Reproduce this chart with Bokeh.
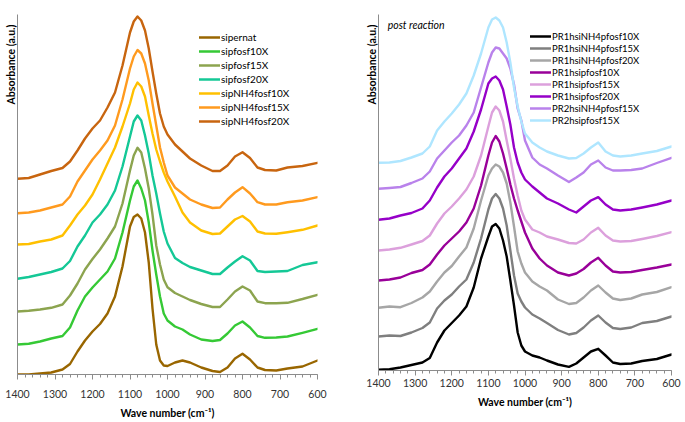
from bokeh.plotting import figure
from bokeh.layouts import row
from bokeh.models import Range1d, Legend, LegendItem, Title, Label, FixedTicker
from bokeh.embed import file_html
from bokeh.resources import INLINE

# ---------------- data (stacked absorbance in a.u.) ----------------
wavenumber = [1400, 1370, 1340, 1310, 1280, 1260, 1240, 1220, 1200, 1180,
              1160, 1140, 1120, 1100, 1090, 1080, 1070, 1060, 1050, 1040,
              1030, 1020, 1010, 1000, 980, 960, 940, 910, 880, 860,
              840, 820, 800, 780, 760, 740, 710, 680, 640, 600]

# left panel
sipernat = [0.00, 0.00, 0.01, 0.02, 0.05, 0.105, 0.23, 0.34, 0.43, 0.505,
            0.61, 0.78, 1.08, 1.48, 1.575, 1.60, 1.56, 1.42, 1.12, 0.66,
            0.30, 0.14, 0.09, 0.085, 0.12, 0.14, 0.12, 0.07, 0.035, 0.025,
            0.07, 0.16, 0.207, 0.15, 0.07, 0.045, 0.04, 0.06, 0.08, 0.14]
sipfosf10X = [0.30, 0.307, 0.33, 0.36, 0.385, 0.47, 0.64, 0.78, 0.87, 0.95,
              1.03, 1.16, 1.42, 1.74, 1.88, 1.94, 1.86, 1.74, 1.52, 1.24,
              1.00, 0.78, 0.61, 0.54, 0.48, 0.45, 0.40, 0.35, 0.335, 0.345,
              0.41, 0.49, 0.53, 0.47, 0.385, 0.367, 0.37, 0.38, 0.417, 0.457]
sipfosf15X = [0.63, 0.637, 0.65, 0.667, 0.70, 0.79, 0.91, 1.05, 1.155, 1.25,
              1.36, 1.48, 1.71, 2.04, 2.19, 2.267, 2.22, 2.06, 1.86, 1.60,
              1.29, 1.10, 0.95, 0.873, 0.815, 0.78, 0.745, 0.705, 0.675, 0.675,
              0.75, 0.83, 0.88, 0.84, 0.73, 0.713, 0.713, 0.717, 0.755, 0.797]
sipfosf20X = [0.957, 0.975, 1.00, 1.025, 1.06, 1.135, 1.28, 1.39, 1.52, 1.60,
              1.70, 1.84, 2.08, 2.38, 2.53, 2.59, 2.54, 2.39, 2.21, 1.99,
              1.81, 1.61, 1.43, 1.31, 1.165, 1.115, 1.075, 1.04, 1.005, 1.005,
              1.07, 1.13, 1.183, 1.14, 1.035, 1.025, 1.03, 1.035, 1.095, 1.123]
sipNH4fosf10X = [1.30, 1.305, 1.33, 1.35, 1.39, 1.49, 1.60, 1.69, 1.80, 1.95,
                 2.11, 2.27, 2.48, 2.71, 2.85, 2.92, 2.88, 2.78, 2.59, 2.41,
                 2.25, 2.13, 2.02, 1.93, 1.78, 1.62, 1.52, 1.44, 1.405, 1.41,
                 1.48, 1.55, 1.585, 1.53, 1.43, 1.41, 1.407, 1.423, 1.447, 1.49]
sipNH4fosf15X = [1.613, 1.62, 1.64, 1.67, 1.70, 1.78, 1.93, 2.04, 2.15, 2.24,
                 2.34, 2.49, 2.75, 3.06, 3.18, 3.245, 3.21, 3.11, 2.94, 2.71,
                 2.49, 2.27, 2.12, 1.99, 1.87, 1.81, 1.75, 1.70, 1.665, 1.67,
                 1.75, 1.82, 1.873, 1.81, 1.723, 1.70, 1.70, 1.723, 1.74, 1.773]
sipNH4fosf20X = [1.957, 1.965, 2.00, 2.035, 2.065, 2.13, 2.24, 2.36, 2.46, 2.54,
                 2.67, 2.82, 3.09, 3.42, 3.53, 3.58, 3.54, 3.44, 3.26, 3.03,
                 2.81, 2.61, 2.48, 2.40, 2.30, 2.23, 2.16, 2.09, 2.035, 2.035,
                 2.09, 2.18, 2.223, 2.165, 2.07, 2.045, 2.04, 2.07, 2.085, 2.117]

left_names = ["sipernat", "sipfosf10X", "sipfosf15X", "sipfosf20X",
              "sipNH4fosf10X", "sipNH4fosf15X", "sipNH4fosf20X"]
left_series = [sipernat, sipfosf10X, sipfosf15X, sipfosf20X,
               sipNH4fosf10X, sipNH4fosf15X, sipNH4fosf20X]
left_colors = ["#996600", "#35C935", "#8CA44F", "#14C896",
               "#FFC000", "#FF9A1E", "#C8650F"]

# right panel (post reaction)
PR1hsiNH4pfosf10X = [0.007, 0.013, 0.03, 0.055, 0.08, 0.125, 0.28, 0.40, 0.475, 0.55,
                     0.64, 0.83, 1.12, 1.34, 1.44, 1.465, 1.42, 1.30, 1.14, 0.90,
                     0.65, 0.38, 0.25, 0.19, 0.15, 0.13, 0.10, 0.06, 0.037, 0.07,
                     0.13, 0.19, 0.217, 0.15, 0.08, 0.065, 0.07, 0.095, 0.115, 0.16]
PR1hsiNH4pfosf15X = [0.34, 0.35, 0.345, 0.38, 0.425, 0.48, 0.62, 0.70, 0.76, 0.84,
                     0.91, 1.08, 1.32, 1.61, 1.72, 1.765, 1.72, 1.62, 1.45, 1.20,
                     0.95, 0.77, 0.69, 0.63, 0.56, 0.52, 0.475, 0.405, 0.36, 0.375,
                     0.43, 0.50, 0.55, 0.48, 0.425, 0.415, 0.43, 0.475, 0.495, 0.54]
PR1hsiNH4pfosf20X = [0.627, 0.64, 0.633, 0.675, 0.73, 0.79, 0.89, 0.98, 1.045, 1.14,
                     1.23, 1.42, 1.70, 1.95, 2.02, 2.06, 2.04, 1.98, 1.87, 1.68,
                     1.44, 1.19, 1.07, 0.98, 0.89, 0.84, 0.80, 0.71, 0.665, 0.675,
                     0.73, 0.80, 0.85, 0.78, 0.72, 0.705, 0.72, 0.76, 0.785, 0.833]
PR1hsipfosf10X = [0.90, 0.91, 0.93, 0.975, 1.005, 1.06, 1.16, 1.25, 1.32, 1.39,
                  1.48, 1.62, 1.85, 2.15, 2.28, 2.345, 2.29, 2.17, 2.02, 1.86,
                  1.72, 1.60, 1.49, 1.38, 1.22, 1.12, 1.05, 0.98, 0.95, 0.97,
                  1.015, 1.08, 1.127, 1.05, 0.99, 0.98, 0.985, 1.005, 1.03, 1.06]
PR1hsipfosf15X = [1.20, 1.21, 1.227, 1.26, 1.295, 1.35, 1.47, 1.57, 1.64, 1.72,
                  1.81, 1.94, 2.15, 2.44, 2.58, 2.64, 2.60, 2.49, 2.30, 2.12,
                  1.92, 1.75, 1.60, 1.51, 1.41, 1.38, 1.34, 1.31, 1.275, 1.27,
                  1.31, 1.38, 1.427, 1.35, 1.30, 1.29, 1.295, 1.315, 1.345, 1.383]
PR1hsipfosf20X = [1.507, 1.52, 1.55, 1.575, 1.62, 1.70, 1.83, 1.94, 2.02, 2.12,
                  2.22, 2.39, 2.61, 2.87, 2.92, 2.94, 2.90, 2.81, 2.64, 2.46,
                  2.23, 2.08, 1.98, 1.91, 1.84, 1.78, 1.72, 1.67, 1.61, 1.58,
                  1.64, 1.70, 1.733, 1.66, 1.61, 1.60, 1.61, 1.63, 1.66, 1.70]
PR2hsiNH4pfosf15X = [1.817, 1.825, 1.835, 1.875, 1.92, 1.99, 2.12, 2.20, 2.28, 2.35,
                     2.45, 2.58, 2.83, 3.08, 3.18, 3.23, 3.22, 3.17, 3.12, 3.02,
                     2.86, 2.62, 2.50, 2.30, 2.13, 2.06, 2.02, 1.95, 1.885, 1.93,
                     1.98, 2.06, 2.10, 2.03, 2.00, 2.00, 2.005, 2.02, 2.075, 2.127]
PR2hsipfosf15X = [2.077, 2.08, 2.095, 2.13, 2.17, 2.24, 2.40, 2.49, 2.57, 2.66,
                  2.77, 2.95, 3.17, 3.43, 3.51, 3.53, 3.50, 3.43, 3.28, 3.08,
                  2.83, 2.64, 2.49, 2.37, 2.28, 2.23, 2.19, 2.15, 2.12, 2.125,
                  2.17, 2.23, 2.28, 2.19, 2.15, 2.14, 2.15, 2.17, 2.195, 2.24]

right_names = ["PR1hsiNH4pfosf10X", "PR1hsiNH4pfosf15X", "PR1hsiNH4pfosf20X",
               "PR1hsipfosf10X", "PR1hsipfosf15X", "PR1hsipfosf20X",
               "PR2hsiNH4pfosf15X", "PR2hsipfosf15X"]
right_series = [PR1hsiNH4pfosf10X, PR1hsiNH4pfosf15X, PR1hsiNH4pfosf20X,
                PR1hsipfosf10X, PR1hsipfosf15X, PR1hsipfosf20X,
                PR2hsiNH4pfosf15X, PR2hsipfosf15X]
right_colors = ["#000000", "#7F7F7F", "#A6A6A6", "#990099",
                "#DCA0DC", "#9600C8", "#B982EB", "#AFE6FF"]

major_ticks = [1400, 1300, 1200, 1100, 1000, 900, 800, 700, 600]
minor_ticks = list(range(600, 1401, 20))

FONT = "Lato"
AXIS_GRAY = "#8C8C8C"


def make_panel(frame_w, frame_h, y_max, border_left, border_right, border_bottom,
               label_standoff, axis_label_standoff):
    p = figure(frame_width=frame_w, frame_height=frame_h,
               x_range=Range1d(1400, 600), y_range=Range1d(0, y_max),
               output_backend="svg", toolbar_location=None,
               min_border_top=14, min_border_left=border_left,
               min_border_right=border_right, min_border_bottom=border_bottom)
    p.outline_line_color = None
    p.xgrid.visible = False
    p.ygrid.visible = False
    p.background_fill_color = "white"

    xa = p.xaxis[0]
    xa.ticker = FixedTicker(ticks=major_ticks, minor_ticks=minor_ticks)
    xa.axis_line_color = AXIS_GRAY
    xa.major_tick_line_color = AXIS_GRAY
    xa.minor_tick_line_color = AXIS_GRAY
    xa.major_tick_in = 0
    xa.major_tick_out = 5
    xa.minor_tick_in = 0
    xa.minor_tick_out = 3
    xa.major_label_text_font = FONT
    xa.major_label_text_font_size = "10.5px"
    xa.major_label_text_color = "#333333"
    xa.major_label_standoff = label_standoff
    xa.axis_label = "Wave number (cm\u207b\u00b9)"
    xa.axis_label_text_font = FONT
    xa.axis_label_text_font_size = "10.5px"
    xa.axis_label_text_font_style = "bold"
    xa.axis_label_text_color = "#000000"
    xa.axis_label_standoff = axis_label_standoff

    ya = p.yaxis[0]
    ya.ticker = FixedTicker(ticks=[])
    ya.axis_line_color = AXIS_GRAY
    ya.major_tick_out = 0
    ya.major_tick_in = 0
    ya.minor_tick_out = 0
    ya.minor_tick_in = 0
    ya.major_label_standoff = 0
    ya.major_label_text_font_size = "0px"

    p.add_layout(Title(text="Absorbance (a.u.)", align="right", text_font=FONT,
                       text_font_size="10.5px", text_font_style="bold",
                       text_color="#000000", standoff=1, offset=10), "left")
    return p


def add_curves(p, names, series, colors, loc, row_h, font_size):
    items = []
    for name, ys, c in zip(names, series, colors):
        r = p.line(wavenumber, ys, line_color=c, line_width=2.4,
                   line_join="round", line_cap="round")
        items.append(LegendItem(label=name, renderers=[r]))
    leg = Legend(items=items, location=loc, padding=0, margin=0, spacing=0,
                 glyph_width=21, glyph_height=row_h, label_height=row_h,
                 label_standoff=1, border_line_color=None,
                 background_fill_alpha=0, label_text_font=FONT,
                 label_text_font_size=font_size, label_text_color="#000000")
    p.add_layout(leg)


left = make_panel(300, 360, 3.6, 17, 33, 44, 10, 6)
add_curves(left, left_names, left_series, left_colors, (182, 246), 14, "10px")

right = make_panel(293, 356, 3.56, 28, 12, 44, 3, 6)
add_curves(right, right_names, right_series, right_colors, (152, 244), 12, "9.5px")
right.add_layout(Label(x=1375, y=3.46, text="post reaction", text_font=FONT,
                       text_font_size="10.5px", text_font_style="italic",
                       text_baseline="middle", text_align="left",
                       text_color="#000000"))

layout = row(left, right)
open("out.html", "w").write(file_html(layout, INLINE))
